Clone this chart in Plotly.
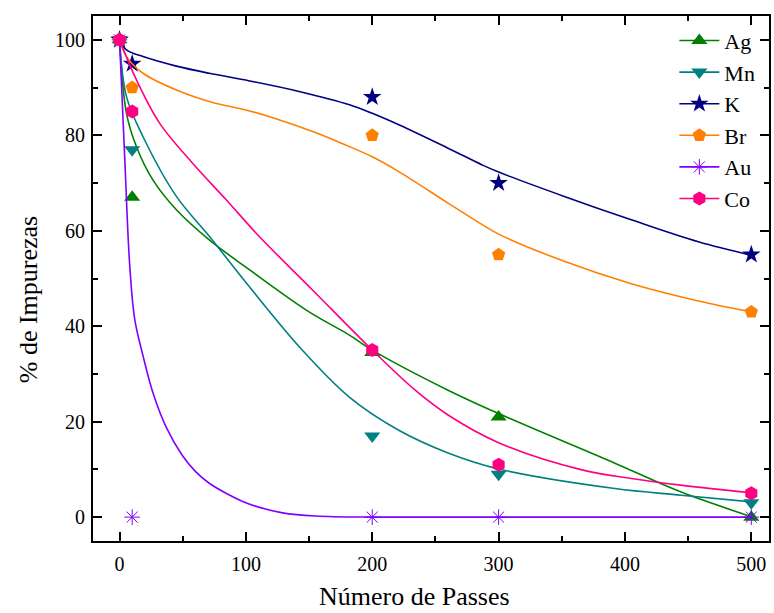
import plotly.graph_objects as go

# Measured impurity percentages after each number of passes
passes = [0, 10, 200, 300, 500]
ag_pts = [100, 67, 34.5, 21, 0]
mn_pts = [100, 77, 17, 9, 3]
k_pts = [100, 95, 88, 70, 55]
br_pts = [100, 90, 80, 55, 43]
au_pts = [100, 0, 0, 0, 0]
co_pts = [100, 85, 35, 11, 5]

# Fitted decay curves (x, y) for each element
ag_fit_x = [0, 5.5, 13.4, 26.5, 45, 71, 103, 150, 181.6, 200, 260, 300, 392, 444, 500]
ag_fit_y = [100, 84.6, 77.6, 70.6, 64.4, 58.1, 51.8, 43.0, 38.2, 35.0, 26.6, 21.7, 11.3, 5.3, 0.1]
mn_fit_x = [0, 5.5, 18.6, 45, 71.2, 97.5, 142.2, 181.6, 221, 260.5, 300, 392, 444.5, 500]
mn_fit_y = [100, 88.1, 79.7, 67.2, 58.8, 50.0, 35.7, 25.2, 18.2, 13.4, 10.1, 6.0, 4.6, 3.2]
k_fit_x = [0, 5.5, 18.6, 45, 71, 103, 142, 182, 200, 221, 260, 287, 300, 352, 405, 458, 500]
k_fit_y = [100, 97.9, 96.5, 94.5, 93.0, 91.4, 89.2, 86.4, 84.6, 82.2, 77.3, 73.8, 72.3, 67.2, 62.3, 57.7, 54.9]
br_fit_x = [0, 5.5, 18.6, 45, 71, 103, 122.5, 155, 176, 200, 221, 260, 287, 300, 352, 405, 458, 500]
br_fit_y = [100, 96.5, 93.0, 89.5, 87.1, 85.1, 83.6, 80.6, 78.3, 75.5, 72.4, 65.8, 61.3, 59.3, 53.6, 48.9, 45.3, 43.0]
au_fit_x = [0, 4, 8, 12, 18.6, 26.5, 37, 50, 60, 71, 85, 97.5, 110, 129, 155, 200, 300, 500]
au_fit_y = [100, 76, 53, 41.5, 33.8, 26, 18.8, 12.8, 9.6, 7.1, 4.9, 3.3, 2.1, 0.9, 0.25, 0, 0, 0]
co_fit_x = [0, 13.4, 31.8, 58, 84.4, 110.6, 152.7, 200, 234, 260, 300, 366, 405, 444, 500]
co_fit_y = [100, 91.6, 82.5, 74.1, 66.5, 58.8, 47.6, 35.0, 26.6, 21.4, 15.6, 9.9, 8.1, 6.7, 5.1]

series = [
    ("Ag", ag_pts, ag_fit_x, ag_fit_y, "#008000", "triangle-up", 14),
    ("Mn", mn_pts, mn_fit_x, mn_fit_y, "#008080", "triangle-down", 14),
    ("K", k_pts, k_fit_x, k_fit_y, "#000080", "star", 14),
    ("Br", br_pts, br_fit_x, br_fit_y, "#FF8000", "pentagon", 14),
    ("Au", au_pts, au_fit_x, au_fit_y, "#8000FF", "asterisk-open", 13),
    ("Co", co_pts, co_fit_x, co_fit_y, "#FF0080", "hexagon", 14),
]

FONT = "'Liberation Serif', 'Times New Roman', Times, serif"

fig = go.Figure()
for name, pts, fx, fy, color, symbol, size in series:
    marker = dict(symbol=symbol, size=size, color=color,
                  line=dict(width=1 if symbol.endswith("open") else 0, color=color))
    fig.add_trace(go.Scatter(x=fx, y=fy, mode="lines", line=dict(color=color, width=1.6, shape="spline"),
                             legendgroup=name, showlegend=False, hoverinfo="skip"))
    fig.add_trace(go.Scatter(x=passes, y=pts, mode="markers", marker=marker,
                             legendgroup=name, showlegend=False, name=name))
    # legend entry: line with marker
    fig.add_trace(go.Scatter(x=[None], y=[None], mode="lines+markers", name=name,
                             line=dict(color=color, width=1.6), marker=marker,
                             legendgroup=name, showlegend=True))

axis_common = dict(
    showline=True, linecolor="black", linewidth=2, mirror="allticks",
    ticks="inside", ticklen=9, tickwidth=2, tickcolor="black",
    showgrid=False, zeroline=False,
    tickfont=dict(family=FONT, size=20, color="black"),
)

fig.update_xaxes(range=[-21, 514], tickmode="array", tickvals=[0, 100, 200, 300, 400, 500],
                 minor=dict(ticks="inside", ticklen=5, tickwidth=2, tickcolor="black", dtick=50, tick0=0),
                 ticklabelstandoff=4, **axis_common)
fig.update_yaxes(range=[-5, 105], tickmode="array", tickvals=[0, 20, 40, 60, 80, 100],
                 minor=dict(ticks="inside", ticklen=5, tickwidth=2, tickcolor="black", dtick=10, tick0=0),
                 ticklabelstandoff=2, **axis_common)

fig.add_annotation(text="Número de Passes", xref="paper", yref="paper", x=0.476, y=-0.106,
                   xanchor="center", yanchor="middle", showarrow=False,
                   font=dict(family=FONT, size=26, color="black"))
fig.add_annotation(text="% de Impurezas", xref="paper", yref="paper", x=-0.095, y=0.46,
                   xanchor="center", yanchor="middle", textangle=-90, showarrow=False,
                   font=dict(family=FONT, size=26, color="black"))

fig.update_layout(
    width=774, height=613,
    margin=dict(l=93, r=3, t=16, b=72),
    paper_bgcolor="white", plot_bgcolor="white",
    showlegend=True,
    legend=dict(x=0.86, y=0.993, xanchor="left", yanchor="top",
                bgcolor="rgba(0,0,0,0)", font=dict(family=FONT, size=22, color="black"),
                traceorder="normal", itemwidth=40),
)

fig.write_html("out.html")
